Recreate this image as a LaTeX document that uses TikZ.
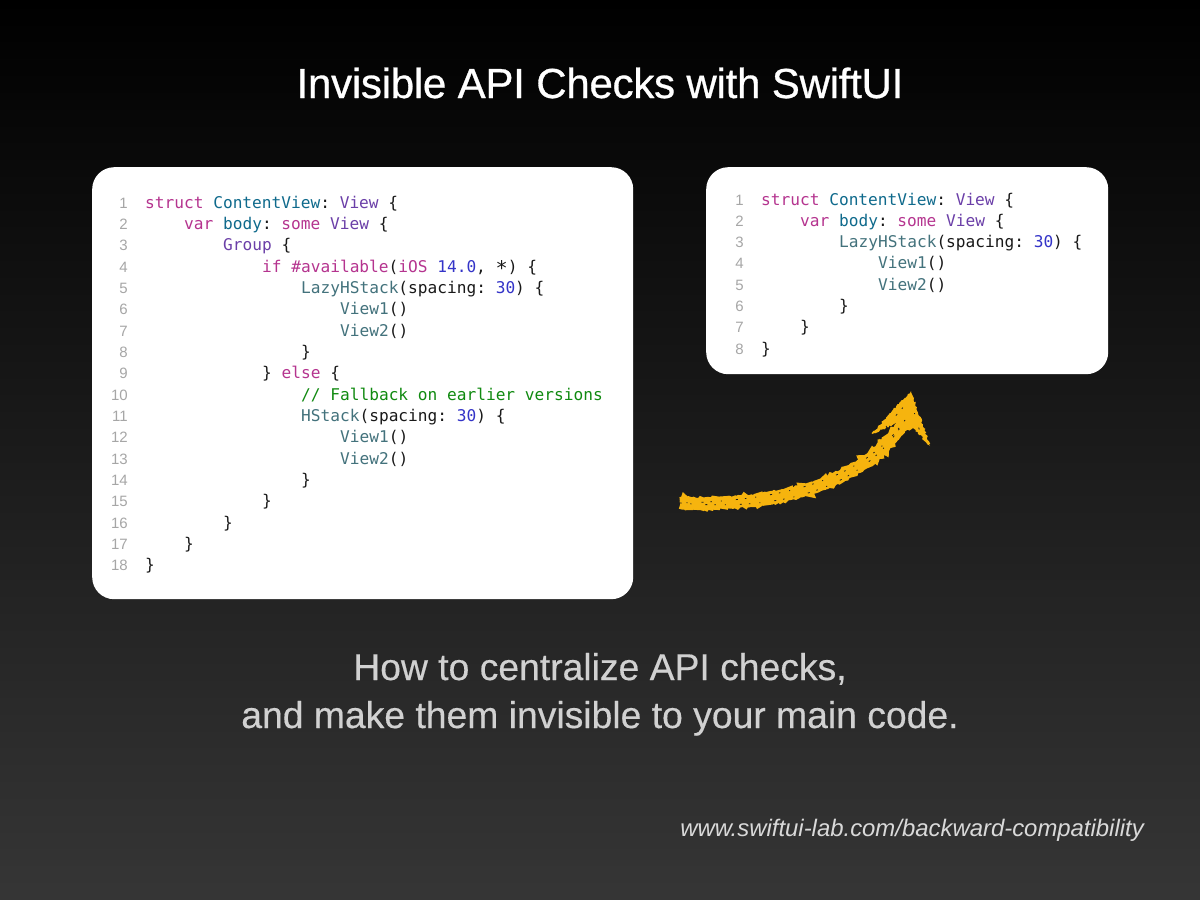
\documentclass[tikz,border=0pt]{standalone}
\usepackage{fontspec}
\setmainfont{Liberation Sans}
\setmonofont{DejaVu Sans Mono}
\newfontfamily\titlefont{Liberation Sans}[LetterSpace=-0.6,RawFeature={embolden=0.7}]
\newfontfamily\subfont{Liberation Sans}[RawFeature={embolden=0.4}]
\usetikzlibrary{decorations.pathmorphing}

\definecolor{kwcol}{HTML}{B5348F}
\definecolor{typecol}{HTML}{6B3FA8}
\definecolor{declcol}{HTML}{0F6A8C}
\definecolor{callcol}{HTML}{43727C}
\definecolor{numcol}{HTML}{3434C8}
\definecolor{commentcol}{HTML}{108A10}
\definecolor{arrowcol}{HTML}{F6B40E}
\definecolor{speckcol}{HTML}{1E1E1E}

\newcommand{\kw}[1]{\textcolor{kwcol}{#1}}
\newcommand{\ty}[1]{\textcolor{typecol}{#1}}
\newcommand{\dc}[1]{\textcolor{declcol}{#1}}
\newcommand{\cl}[1]{\textcolor{callcol}{#1}}
\newcommand{\nm}[1]{\textcolor{numcol}{#1}}

\tikzset{
	panel/.style={shape=rectangle,fill=white,rounded corners=22pt,inner sep=0pt,anchor=north west},
	code/.style={anchor=base west,inner sep=0pt,text=black!90,font=\ttfamily\fontsize{16.16}{20}\selectfont},
	linenum/.style={anchor=base east,inner sep=0pt,text=black!35,font=\fontsize{15}{18}\selectfont},
	rough/.style={decorate,decoration={random steps,segment length=1.6pt,amplitude=1pt}},
	speck/.style={speckcol,line width=0.8pt,dash pattern=on 1.5pt off 9pt on 1pt off 14pt on 2pt off 7pt}
}

\begin{document}
\begin{tikzpicture}[x=1pt,y=-1pt]

	\shade[top color=black,bottom color=black!79!white] (0,0) rectangle (1200,900);

	\node[anchor=base,inner sep=0pt,text=white,font=\titlefont\fontsize{42}{50}\selectfont] (title) at (600, 98) {Invisible API Checks with SwiftUI};

	\node[panel,minimum width=541pt,minimum height=432pt] (left) at (92, 167) {};
	\node[panel,minimum width=402pt,minimum height=207pt] (right) at (706, 167) {};

	% left code
	\foreach \n in {1,...,18}
		\node[linenum] (la\n) at ({128},{208+21.35*(\n-1)}) {\n};
	\node[code] (a1)  at (145, 208.00) {\kw{struct} \dc{ContentView}: \ty{View} \{};
	\node[code] (a2)  at (184, 229.35) {\kw{var} \dc{body}: \kw{some} \ty{View} \{};
	\node[code] (a3)  at (223, 250.70) {\ty{Group} \{};
	\node[code] (a4)  at (262, 272.05) {\kw{if} \kw{\#available}(\kw{iOS} \nm{14.0}, \raisebox{-3.5pt}{\scalebox{1.25}{*}}) \{};
	\node[code] (a5)  at (301, 293.40) {\cl{LazyHStack}(spacing: \nm{30}) \{};
	\node[code] (a6)  at (340, 314.75) {\cl{View1}()};
	\node[code] (a7)  at (340, 336.10) {\cl{View2}()};
	\node[code] (a8)  at (301, 357.45) {\}};
	\node[code] (a9)  at (262, 378.80) {\} \kw{else} \{};
	\node[code,text=commentcol] (a10) at (301, 400.15) {// Fallback on earlier versions};
	\node[code] (a11) at (301, 421.50) {\cl{HStack}(spacing: \nm{30}) \{};
	\node[code] (a12) at (340, 442.85) {\cl{View1}()};
	\node[code] (a13) at (340, 464.20) {\cl{View2}()};
	\node[code] (a14) at (301, 485.55) {\}};
	\node[code] (a15) at (262, 506.90) {\}};
	\node[code] (a16) at (223, 528.25) {\}};
	\node[code] (a17) at (184, 549.60) {\}};
	\node[code] (a18) at (145, 570.95) {\}};

	% right code
	\foreach \n in {1,...,8}
		\node[linenum] (lb\n) at ({744},{205+21.3*(\n-1)}) {\n};
	\node[code] (b1) at (761, 205.00) {\kw{struct} \dc{ContentView}: \ty{View} \{};
	\node[code] (b2) at (800, 226.30) {\kw{var} \dc{body}: \kw{some} \ty{View} \{};
	\node[code] (b3) at (839, 247.60) {\cl{LazyHStack}(spacing: \nm{30}) \{};
	\node[code] (b4) at (878, 268.90) {\cl{View1}()};
	\node[code] (b5) at (878, 290.20) {\cl{View2}()};
	\node[code] (b6) at (839, 311.50) {\}};
	\node[code] (b7) at (800, 332.80) {\}};
	\node[code] (b8) at (761, 354.10) {\}};

	% arrow
	\coordinate (start) at (680, 503);
	\coordinate (neck) at (905, 420);
	\draw[arrowcol,line width=12pt,rough] (start) .. controls (770, 506) and (860, 490) .. (neck);
	\fill[arrowcol,rough] (911, 391) -- (924, 428) -- (930, 446) -- (913, 428) -- (904, 432) -- (897, 423) -- (872, 434) -- (892, 411) -- cycle;
	\draw[speck,yshift=-5pt] (start) .. controls (770, 506) and (860, 490) .. (neck);
	\draw[speck,yshift=5pt,dash phase=4pt] (start) .. controls (770, 506) and (860, 490) .. (neck);
	\draw[speck,dash phase=9pt] (885, 428) -- (906, 404);
	\draw[speck,dash phase=2pt] (912, 405) -- (920, 432);

	\node[anchor=base,inner sep=0pt,text=white!82!black,font=\subfont\fontsize{37.3}{48}\selectfont] (sub1) at (600, 680) {How to centralize API checks,};
	\node[anchor=base,inner sep=0pt,text=white!82!black,font=\subfont\fontsize{37.3}{48}\selectfont] (sub2) at (600, 728) {and make them invisible to your main code.};
	\node[anchor=base east,inner sep=0pt,text=white!85!black,font=\itshape\fontsize{23.9}{28}\selectfont] (url) at (1144, 836) {www.swiftui-lab.com/backward-compatibility};

\end{tikzpicture}
\end{document}
